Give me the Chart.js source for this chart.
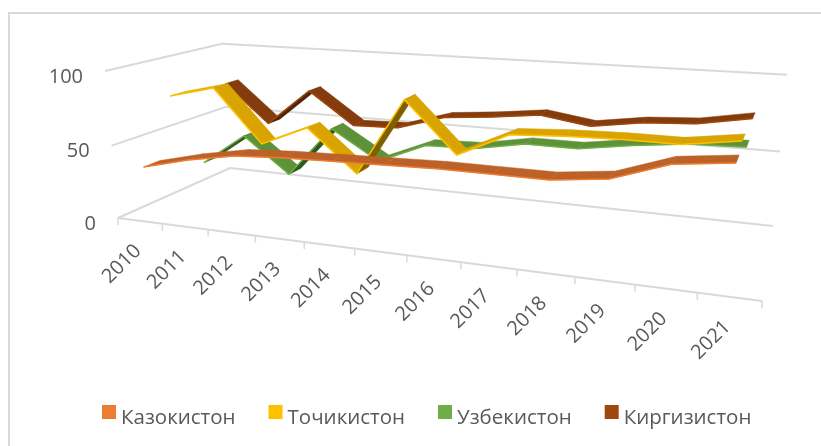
<!DOCTYPE html>
<html>
<head>
<meta charset="utf-8">
<script src="https://cdn.jsdelivr.net/npm/chart.js@4"></script>
<style>
  html, body { margin: 0; padding: 0; background: #fff; }
  canvas { display: block; }
</style>
</head>
<body>
<canvas id="chart" width="821" height="446"></canvas>
<script>
// chart values
const years = ["2010", "2011", "2012", "2013", "2014", "2015", "2016", "2017", "2018", "2019", "2020", "2021"];
const kazakh = [35, 43, 49, 51, 52, 53, 54, 54, 54, 58, 70, 74];
const tajik = [77, 85, 49, 63, 35, 87, 54, 70, 72, 73, 73, 78];
const uzbek = [21, 44, 19, 55, 35, 49, 50, 56, 56, 61, 65, 66];
const kyrgyz = [74, 46, 73, 50, 51, 61, 64, 68, 63, 68, 70, 76];
const yTicks = [0, 50, 100];

// perspective box: screen corners of the floor / left wall, plus w weights
const org = [118, 218], right = [762, 301], back = [230, 168], up = [105, 71];
const wu = 0.8135, wd = 1.19, wv = 0.97;
const cornerFix = [7, -5]; // pulls the far top right corner onto the reference

function project(u, d, v) {
  const w = 1 + (wu - 1) * u + (wd - 1) * d + (wv - 1) * v;
  const at = (k) => (org[k] + (wu * right[k] - org[k]) * u + (wd * back[k] - org[k]) * d + (wv * up[k] - org[k]) * v) / w + cornerFix[k] * u * d * v;
  return { x: at(0), y: at(1) };
}

const ribbons = [
  { depth: 0.125, top: "#BC6228", under: "#8A4A1E" },
  { depth: 0.375, top: "#D9A300", under: "#7F6000" },
  { depth: 0.625, top: "#5E9238", under: "#2F5A1F" },
  { depth: 0.875, top: "#843C0C", under: "#4F2407" },
];
const halfWidth = 0.065;

function norm(chart, i, value) {
  const { x, y } = chart.scales;
  return {
    u: (x.getPixelForValue(i) - x.left) / x.width,
    v: (y.bottom - y.getPixelForValue(value)) / y.height,
  };
}

const box3d = {
  id: "box3d",
  // move the line's points from the flat scales onto the front edge of the ribbon
  afterDatasetsUpdate(chart) {
    chart.data.datasets.forEach((ds, n) => {
      chart.getDatasetMeta(n).data.forEach((pt, i) => {
        const { u, v } = norm(chart, i, ds.data[i]);
        Object.assign(pt, project(u, ribbons[n].depth - halfWidth, v));
      });
    });
  },
  beforeDraw(chart) {
    const ctx = chart.ctx;
    const { x, y } = chart.scales;
    ctx.save();
    // frame, only left and top show in the crop
    ctx.strokeStyle = "#D9D9D9";
    ctx.lineWidth = 2;
    ctx.beginPath();
    ctx.moveTo(9, 446);
    ctx.lineTo(9, 13);
    ctx.lineTo(821, 13);
    ctx.stroke();

    // gridlines on left wall and back wall
    ctx.strokeStyle = "#D9D9D9";
    ctx.lineWidth = 2;
    yTicks.forEach((t) => {
      const v = (y.bottom - y.getPixelForValue(t)) / y.height;
      const a = project(0, 0, v), b = project(0, 1, v), c = project(1, 1, v);
      ctx.beginPath();
      ctx.moveTo(a.x, a.y);
      ctx.lineTo(b.x, b.y);
      ctx.lineTo(c.x, c.y);
      ctx.stroke();
      ctx.fillStyle = "#595959";
      ctx.font = "20px 'Open Sans'";
      ctx.textAlign = "right";
      ctx.textBaseline = "middle";
      ctx.fillText(String(t), a.x - 22, a.y + 6);
    });

    // front floor edge with ticks
    const p0 = project(0, 0, 0), p1 = project(1, 0, 0);
    ctx.beginPath();
    ctx.moveTo(p0.x, p0.y);
    ctx.lineTo(p1.x, p1.y);
    ctx.stroke();
    ctx.lineWidth = 1.5;
    for (let i = 0; i <= years.length; i++) {
      const p = project(i / years.length, 0, 0);
      ctx.beginPath();
      ctx.moveTo(p.x, p.y);
      ctx.lineTo(p.x, p.y + 7);
      ctx.stroke();
    }

    // year labels
    ctx.fillStyle = "#595959";
    ctx.font = "20px 'Open Sans'";
    ctx.textAlign = "right";
    ctx.textBaseline = "middle";
    x.ticks.forEach((t, i) => {
      const p = project((x.getPixelForValue(i) - x.left) / x.width, 0, 0);
      ctx.save();
      ctx.translate(p.x - 2, p.y + 27);
      ctx.rotate(-Math.PI / 4);
      ctx.fillText(x.getLabelForValue(i), 0, 0);
      ctx.restore();
    });

    // legend, boxes sit closer to the text than the built in one allows
    ctx.font = "20.5px 'Open Sans'";
    ctx.textAlign = "left";
    ctx.textBaseline = "alphabetic";
    let lx = 102;
    chart.data.datasets.forEach((ds) => {
      ctx.fillStyle = ds.backgroundColor;
      ctx.fillRect(lx, 405, 14, 14);
      ctx.fillStyle = "#595959";
      ctx.fillText(ds.label, lx + 19, 424);
      lx += 19 + ctx.measureText(ds.label).width + 33;
    });
    ctx.restore();
  },
  // ribbon surface goes under each series line
  beforeDatasetDraw(chart, args) {
    const ctx = chart.ctx;
    const ds = chart.data.datasets[args.index];
    const r = ribbons[args.index];
    ctx.save();
    for (let i = 0; i < ds.data.length - 1; i++) {
      const a = norm(chart, i, ds.data[i]), b = norm(chart, i + 1, ds.data[i + 1]);
      const q = [
        project(a.u, r.depth - halfWidth, a.v),
        project(b.u, r.depth - halfWidth, b.v),
        project(b.u, r.depth + halfWidth, b.v),
        project(a.u, r.depth + halfWidth, a.v),
      ];
      let area = 0;
      q.forEach((p, k) => {
        const n = q[(k + 1) % 4];
        area += p.x * n.y - n.x * p.y;
      });
      ctx.fillStyle = area < 0 ? r.top : r.under;
      ctx.strokeStyle = ctx.fillStyle;
      ctx.lineWidth = 0.5;
      ctx.beginPath();
      q.forEach((p, k) => (k ? ctx.lineTo(p.x, p.y) : ctx.moveTo(p.x, p.y)));
      ctx.closePath();
      ctx.fill();
      ctx.stroke();
    }
    ctx.restore();
  },
};

new Chart(document.getElementById("chart"), {
  type: "line",
  data: {
    labels: years,
    datasets: [
      { label: "Казокистон", data: kazakh, borderColor: "#ED7D31", backgroundColor: "#ED7D31" },
      { label: "Точикистон", data: tajik, borderColor: "#FFC000", backgroundColor: "#FFC000" },
      { label: "Узбекистон", data: uzbek, borderColor: "#70AD47", backgroundColor: "#70AD47" },
      { label: "Киргизистон", data: kyrgyz, borderColor: "#9E480E", backgroundColor: "#9E480E" },
    ],
  },
  options: {
    responsive: false,
    animation: false,
    events: [],
    clip: false,
    elements: { point: { radius: 0 }, line: { borderWidth: 1.5, tension: 0 } },
    scales: {
      x: { display: false, offset: true },
      y: { display: false, min: 0, max: 100, ticks: { stepSize: 50 } },
    },
    plugins: {
      tooltip: { enabled: false },
      legend: { display: false },
    },
  },
  plugins: [box3d],
});
</script>
</body>
</html>
